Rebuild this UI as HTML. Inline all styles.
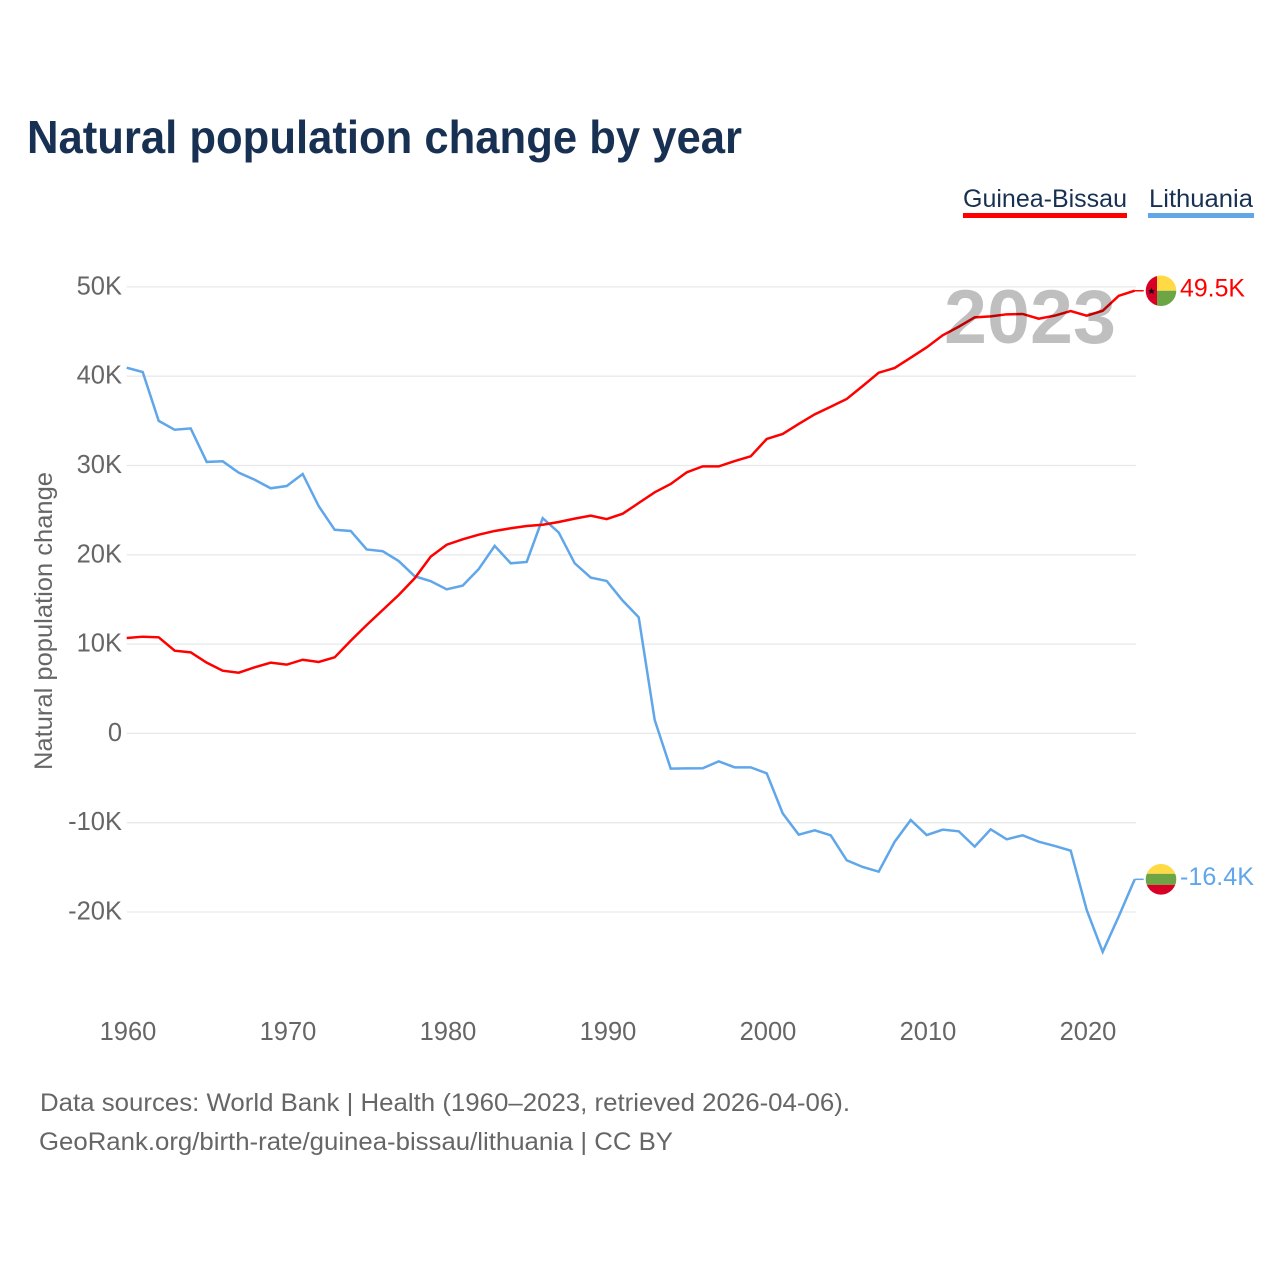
<!DOCTYPE html>
<html lang="en">
<head>
<meta charset="utf-8">
<title>Natural population change by year</title>
<style>
html,body{margin:0;padding:0;background:#fff;width:1280px;height:1280px;overflow:hidden}
svg{display:block}
text{font-family:"Liberation Sans",sans-serif}
.tick{font-size:25.5px;fill:#666}
.foot{font-size:25px;fill:#666}
</style>
</head>
<body>
<svg id="chart" xmlns="http://www.w3.org/2000/svg" width="1280" height="1280" viewBox="0 0 1280 1280">
  <rect width="1280" height="1280" fill="#fff"/>
  <text x="27" y="153" font-size="46" font-weight="700" fill="#183153" textLength="715" lengthAdjust="spacingAndGlyphs">Natural population change by year</text>

  <g>
    <text x="963" y="207" font-size="25" fill="#183153" textLength="164" lengthAdjust="spacingAndGlyphs">Guinea-Bissau</text>
    <rect x="963" y="213" width="164" height="5" fill="#ff0000"/>
  </g>
  <g>
    <text x="1149" y="207" font-size="25" fill="#183153" textLength="104" lengthAdjust="spacingAndGlyphs">Lithuania</text>
    <rect x="1148" y="213" width="106" height="5" fill="#63a6e8"/>
  </g>

  <g id="grid"></g>
  <g id="yticks"></g>
  <g id="xticks"></g>
  <text transform="translate(52,770) rotate(-90)" font-size="25" fill="#666" textLength="298" lengthAdjust="spacingAndGlyphs">Natural population change</text>

  <g id="series"></g>

  <text x="1116" y="343" text-anchor="end" font-size="76" font-weight="700" fill="#000" fill-opacity="0.25" textLength="172" lengthAdjust="spacingAndGlyphs">2023</text>

  <defs>
    <clipPath id="flag-clip"><circle cx="0" cy="0" r="15.3"/></clipPath>
  </defs>
  <g id="flag-gb">
    <g clip-path="url(#flag-clip)">
      <rect x="-16" y="-16" width="12" height="32" fill="#d80027"/>
      <rect x="-4" y="-16" width="20" height="16" fill="#ffda44"/>
      <rect x="-4" y="0" width="20" height="16" fill="#6da544"/>
      <polygon points="-9.5,-3 -8.4,-0.6 -6,-0.6 -7.9,1 -7.2,3.4 -9.5,2 -11.8,3.4 -11.1,1 -13,-0.6 -10.6,-0.6" fill="#111"/>
    </g>
  </g>
  <g id="flag-lt">
    <g clip-path="url(#flag-clip)">
      <rect x="-16" y="-16" width="32" height="10.5" fill="#ffda44"/>
      <rect x="-16" y="-5.5" width="32" height="11" fill="#6da544"/>
      <rect x="-16" y="5.5" width="32" height="11" fill="#d80027"/>
    </g>
  </g>
  <g id="endlabels"></g>

  <text class="foot" x="40" y="1111" textLength="810" lengthAdjust="spacingAndGlyphs">Data sources: World Bank | Health (1960–2023, retrieved 2026-04-06).</text>
  <text class="foot" x="39" y="1150" textLength="634" lengthAdjust="spacingAndGlyphs">GeoRank.org/birth-rate/guinea-bissau/lithuania | CC BY</text>
</svg>

<script>
const years = [1960,1961,1962,1963,1964,1965,1966,1967,1968,1969,1970,1971,1972,1973,1974,1975,1976,1977,1978,1979,1980,1981,1982,1983,1984,1985,1986,1987,1988,1989,1990,1991,1992,1993,1994,1995,1996,1997,1998,1999,2000,2001,2002,2003,2004,2005,2006,2007,2008,2009,2010,2011,2012,2013,2014,2015,2016,2017,2018,2019,2020,2021,2022,2023];
const guineaBissau = [10.68,10.83,10.76,9.26,9.08,7.92,7.02,6.8,7.4,7.92,7.7,8.25,8.0,8.52,10.38,12.14,13.82,15.5,17.37,19.79,21.13,21.74,22.25,22.67,22.97,23.23,23.37,23.67,24.05,24.38,24.0,24.6,25.8,27.0,27.93,29.23,29.9,29.9,30.5,31.03,32.97,33.53,34.65,35.73,36.58,37.45,38.9,40.39,40.92,42.07,43.23,44.58,45.54,46.59,46.7,46.93,46.97,46.44,46.78,47.3,46.78,47.33,49.0,49.57];
const lithuania = [40.95,40.47,35.0,34.0,34.15,30.4,30.47,29.2,28.4,27.45,27.7,29.05,25.45,22.8,22.67,20.6,20.4,19.3,17.6,17.05,16.13,16.55,18.4,21.0,19.05,19.2,24.1,22.5,19.05,17.45,17.07,14.87,13.0,1.5,-3.95,-3.92,-3.9,-3.13,-3.8,-3.8,-4.47,-8.95,-11.34,-10.85,-11.41,-14.21,-14.96,-15.48,-12.13,-9.7,-11.38,-10.78,-10.96,-12.68,-10.74,-11.86,-11.41,-12.13,-12.6,-13.13,-19.77,-24.47,-20.5,-16.34];
const yTickValues = [50,40,30,20,10,0,-10,-20];
const yTickLabels = ["50K","40K","30K","20K","10K","0","-10K","-20K"];
const xTickValues = [1960,1970,1980,1990,2000,2010,2020];
const endLabels = ["49.5K","-16.4K"];

const NS = "http://www.w3.org/2000/svg";
const x = function (year) { return 126.7 + (year - 1960) * 16; };
const y = function (k) { return 733.4 - k * 8.93; };
const gridRight = 1136;

function make(tag, parent, attrs, content) {
  const el = document.createElementNS(NS, tag);
  for (const k in attrs) el.setAttribute(k, attrs[k]);
  if (content !== undefined) el.textContent = content;
  document.getElementById(parent).appendChild(el);
  return el;
}

yTickValues.forEach(function (v, i) {
  const line = make("line", "grid", {x1: 126.7, x2: gridRight, y1: y(v), y2: y(v), stroke: "#e9e9e9", "stroke-width": 1.3});
  
  
  const label = make("text", "yticks", {x: 122, y: y(v) + 7.5, "text-anchor": "end", class: "tick"}, yTickLabels[i]);
  
  
});

xTickValues.forEach(function (v) {
  const label = make("text", "xticks", {x: x(v) + 1.3, y: 1040, "text-anchor": "middle", class: "tick"}, String(v));
  
  
});

function linePath(values) {
  return values.map(function (v, i) {
    return (i ? "L" : "M") + x(years[i]).toFixed(2) + " " + y(v).toFixed(2);
  }).join(" ");
}

const blueLine = make("path", "series", {d: linePath(lithuania), fill: "none", stroke: "#5fa6ea", "stroke-width": 2.5, "stroke-linejoin": "miter"});


const redLine = make("path", "series", {d: linePath(guineaBissau), fill: "none", stroke: "#ff0000", "stroke-width": 2.5, "stroke-linejoin": "miter"});



const lastX = x(years[years.length - 1]);
const lastRed = y(guineaBissau[guineaBissau.length - 1]);
const lastBlue = y(lithuania[lithuania.length - 1]);

const redStub = make("line", "series", {x1: lastX, x2: lastX + 9, y1: lastRed, y2: lastRed, stroke: "#ff0000", "stroke-width": 1.5});


const blueStub = make("line", "series", {x1: lastX, x2: lastX + 9, y1: lastBlue, y2: lastBlue, stroke: "#5fa6ea", "stroke-width": 1.5});



document.getElementById("flag-gb").setAttribute("transform", "translate(" + (lastX + 26.3) + "," + lastRed + ")");
document.getElementById("flag-lt").setAttribute("transform", "translate(" + (lastX + 26.3) + "," + lastBlue + ")");

const redLabel = make("text", "endlabels", {x: 1180, y: lastRed + 5.7, "font-size": 25, fill: "#ff0000", textLength: 65, lengthAdjust: "spacingAndGlyphs"}, endLabels[0]);


const blueLabel = make("text", "endlabels", {x: 1180, y: lastBlue + 5.7, "font-size": 25, fill: "#5fa6ea", textLength: 74, lengthAdjust: "spacingAndGlyphs"}, endLabels[1]);


</script>
</body>
</html>
